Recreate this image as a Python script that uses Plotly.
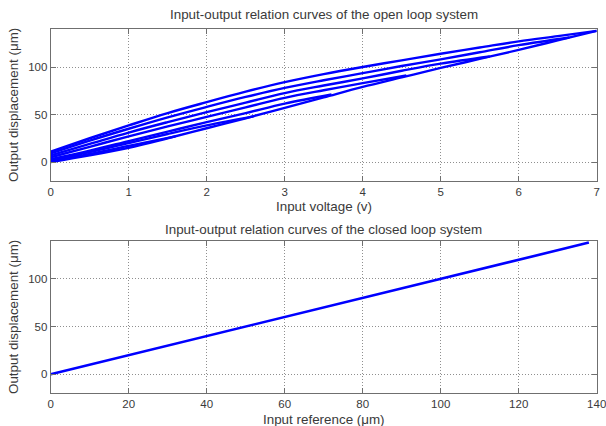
import plotly.graph_objects as go

# ---- open loop: shared ascending branch (input voltage V -> displacement um)
asc_v = [0, 0.5, 1, 1.5, 2, 2.5, 3, 3.5, 4, 4.5, 5, 5.5, 6, 6.5, 7]
asc_d = [0, 7, 15, 25, 35.5, 46, 57, 68, 79, 89, 99, 108.5, 118, 128, 138]

# descending branches, one per turning point (peak first)
desc_v_70 = [7.0, 6.5, 6, 5.5, 5, 4.5, 4, 3.5, 3, 2.5, 2, 1.5, 1, 0.5, 0]
desc_d_70 = [138, 132.5, 127, 120.5, 114, 107, 100, 92.5, 84, 74, 63, 51.5, 38.5, 25, 11]

desc_v_66 = [6.65, 6, 5.5, 5, 4.5, 4, 3.5, 3, 2.5, 2, 1.5, 1, 0.5, 0]
desc_d_66 = [131, 123, 115.5, 108, 101, 93.5, 86, 78, 68.5, 58, 47, 35, 22.5, 9]

desc_v_56 = [5.63, 5, 4.5, 4, 3.5, 3, 2.5, 2, 1.5, 1, 0.5, 0]
desc_d_56 = [111, 103.5, 96, 88, 80.5, 72.5, 62.5, 52.5, 42, 31, 19, 7]

desc_v_46 = [4.56, 4, 3.5, 3, 2.5, 2, 1.5, 1, 0.5, 0]
desc_d_46 = [91, 83, 75.5, 67.5, 57.5, 47.5, 37.5, 27, 16, 5]

desc_v_36 = [3.6, 3, 2.5, 2, 1.5, 1, 0.5, 0]
desc_d_36 = [71, 61.5, 51.5, 42, 32, 22, 12, 3]

desc_v_26 = [2.6, 2, 1.5, 1, 0.5, 0]
desc_d_26 = [48, 38.5, 29.5, 20, 10.5, 2]

desc_v_16 = [1.6, 1, 0.5, 0]
desc_d_16 = [27, 17, 8.5, 1]

# ---- closed loop: reference vs. measured displacement (um)
ref_in = [0, 20, 40, 60, 80, 100, 120, 138]
ref_out = [0, 20, 40, 60, 80, 100, 120, 138]

# ---- tick values
v_ticks = [0, 1, 2, 3, 4, 5, 6, 7]
r_ticks = [0, 20, 40, 60, 80, 100, 120, 140]
d_ticks = [0, 50, 100]

BLUE = "#0000ff"
TXT = "#3a3a3a"
FONT = "Liberation Sans, Arial, Helvetica, sans-serif"

W, H = 606, 426
X0, X1 = 50.7, 596.7
TOP = (29, 181)
BOT = (240.7, 393.3)


def px_x(p):
    return p / W


def px_y(p):
    return 1 - p / H


fig = go.Figure()

branches = [
    (asc_v, asc_d),
    (desc_v_70, desc_d_70),
    (desc_v_66, desc_d_66),
    (desc_v_56, desc_d_56),
    (desc_v_46, desc_d_46),
    (desc_v_36, desc_d_36),
    (desc_v_26, desc_d_26),
    (desc_v_16, desc_d_16),
]
for xs, ys in branches:
    fig.add_trace(go.Scatter(
        x=xs, y=ys, mode="lines", xaxis="x", yaxis="y",
        line=dict(color=BLUE, width=2.4, shape="spline", smoothing=1.0),
        showlegend=False, hoverinfo="skip"))

fig.add_trace(go.Scatter(
    x=ref_in, y=ref_out, mode="lines", xaxis="x2", yaxis="y2",
    line=dict(color=BLUE, width=2.6), showlegend=False, hoverinfo="skip"))

axis_common = dict(
    showline=True, linecolor="#6f6f6f", linewidth=1, mirror="ticks",
    ticks="inside", ticklen=5, tickcolor="#6f6f6f", tickwidth=1,
    showgrid=True, gridcolor="#8f8f8f", griddash="1px,2px", gridwidth=1,
    zeroline=False, automargin=False, ticklabeloverflow="allow",
    tickfont=dict(family=FONT, size=11.5, color=TXT),
)

fig.update_layout(
    width=W, height=H,
    margin=dict(l=0, r=0, t=0, b=0),
    paper_bgcolor="white", plot_bgcolor="white",
    xaxis=dict(domain=[px_x(X0), px_x(X1)], anchor="y", range=[0, 7.0001],
               tickvals=v_ticks, **axis_common),
    yaxis=dict(domain=[px_y(TOP[1]), px_y(TOP[0])], anchor="x", range=[-20, 140],
               tickvals=d_ticks, **axis_common),
    xaxis2=dict(domain=[px_x(X0), px_x(X1)], anchor="y2", range=[0, 140.001],
                tickvals=r_ticks, **axis_common),
    yaxis2=dict(domain=[px_y(BOT[1]), px_y(BOT[0])], anchor="x2", range=[-20, 140],
                tickvals=d_ticks, **axis_common),
)

cx = px_x((X0 + X1) / 2)
labels = [
    ("Input-output relation curves of the open loop system", cx, px_y(14), 0),
    ("Input voltage (v)", cx, px_y(206), 0),
    ("Output displacement (μm)", px_x(13), px_y((TOP[0] + TOP[1]) / 2), -90),
    ("Input-output relation curves of the closed loop system", cx, px_y(229), 0),
    ("Input reference (μm)", cx, px_y(419), 0),
    ("Output displacement (μm)", px_x(13), px_y((BOT[0] + BOT[1]) / 2), -90),
]
for text, x, y, ang in labels:
    fig.add_annotation(text=text, x=x, y=y, xref="paper", yref="paper",
                       xanchor="center", yanchor="middle", showarrow=False,
                       textangle=ang, font=dict(family=FONT, size=13.4, color=TXT))

fig.write_html("out.html")
